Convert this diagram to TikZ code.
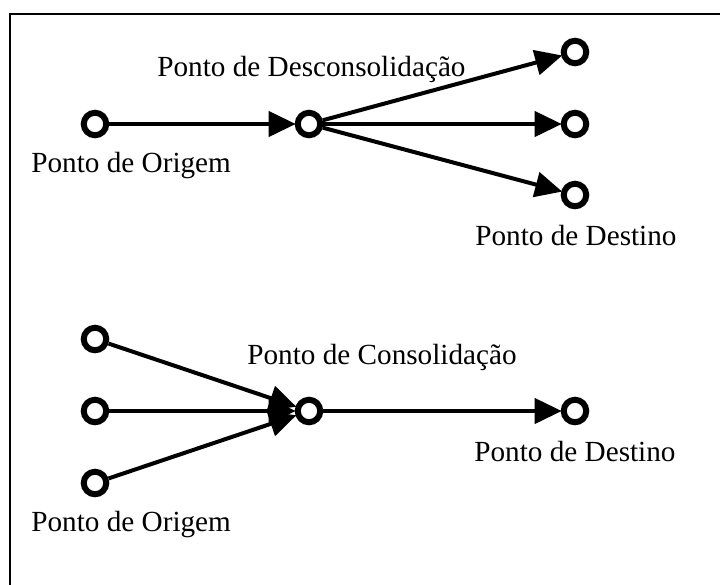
\documentclass[tikz,border=0pt]{standalone}
\usepackage{fontspec}
\setmainfont{Liberation Serif}
\usetikzlibrary{arrows.meta}

\begin{document}
\begin{tikzpicture}[x=0.5pt, y=-0.5pt,
  ponto/.style={circle, draw, line width=3pt, fill=white, inner sep=0pt, minimum size=11.25pt},
  fluxo/.style={-{Triangle[length=13.5pt, width=12.5pt]}, line width=2pt, shorten >=-0.5pt},
  rotulo/.style={anchor=base west, inner sep=0pt, font=\fontsize{14.6}{17}\selectfont}]
  \useasboundingbox (0,0) rectangle (720,585);

  % Frame (only top and left edges are visible)
  \draw[line width=1pt] (720,14) -| (10,585);

  % Desconsolidacao: points
  \node[ponto] (origA) at (95,124) {};
  \node[ponto] (descA) at (309,124) {};
  \node[ponto] (destA1) at (575,52) {};
  \node[ponto] (destA2) at (575,124) {};
  \node[ponto] (destA3) at (575,195) {};

  % Desconsolidacao: flows
  \draw[fluxo] (origA) -- (descA);
  \draw[fluxo] (descA) -- (destA1);
  \draw[fluxo] (descA) -- (destA2);
  \draw[fluxo] (descA) -- (destA3);

  % Desconsolidacao: labels
  \node[rotulo] (lblDesc) at (157,76) {Ponto de Desconsolidação};
  \node[rotulo] (lblOrigA) at (31,172) {Ponto de Origem};
  \node[rotulo] (lblDestA) at (475,245) {Ponto de Destino};

  % Consolidacao: points
  \node[ponto] (origB1) at (95,339) {};
  \node[ponto] (origB2) at (95,411) {};
  \node[ponto] (origB3) at (95,483) {};
  \node[ponto] (consB) at (309,411) {};
  \node[ponto] (destB) at (575,411) {};

  % Consolidacao: flows
  \draw[fluxo] (origB1) -- (consB);
  \draw[fluxo] (origB2) -- (consB);
  \draw[fluxo] (origB3) -- (consB);
  \draw[fluxo] (consB) -- (destB);

  % Consolidacao: labels
  \node[rotulo] (lblCons) at (247,364) {Ponto de Consolidação};
  \node[rotulo] (lblDestB) at (474,461) {Ponto de Destino};
  \node[rotulo] (lblOrigB) at (31,531) {Ponto de Origem};
\end{tikzpicture}
\end{document}
